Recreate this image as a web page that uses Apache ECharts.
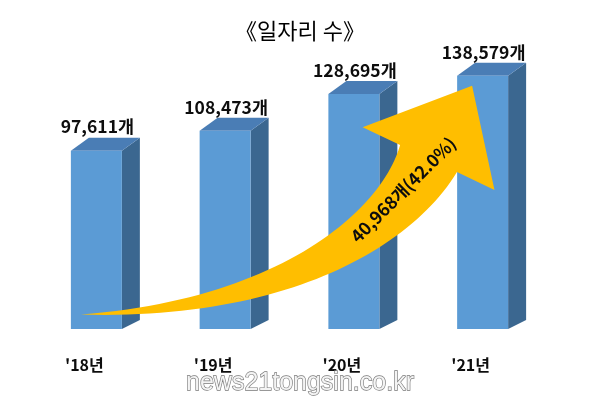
<!DOCTYPE html>
<html>
<head>
<meta charset="utf-8">
<script src="https://cdn.jsdelivr.net/npm/echarts@6/dist/echarts.min.js"></script>
<style>
  html, body { margin: 0; padding: 0; background: #ffffff; }
  #chart { width: 600px; height: 400px; }
</style>
</head>
<body>
<div id="chart"></div>
<script>
// ---- data ----
const titleText = '《일자리 수》';
const categories = ["'18년", "'19년", "'20년", "'21년"];
const values = [97611, 108473, 128695, 138579];
const unit = '개';
const growthText = '40,968개(42.0%)';
const watermarkText = 'news21tongsin.co.kr';

// arrow anchors in data space: [category index, value]
const arrowTail = [-0.12, 7900];
const arrowHeadBase = [2.58, 93300];

const FONT = '"Noto Sans CJK KR", "Noto Sans", sans-serif';

const chart = echarts.init(document.getElementById('chart'), null, { renderer: 'canvas' });

function fmt(v) { return v.toLocaleString('en-US'); }

function renderBar(params, api) {
  const i = api.value(0), v = api.value(1);
  const top = api.coord([i, v]);
  const base = api.coord([i, 0]);
  const band = api.size([1, 0])[0];
  const w = band * 0.396;
  const L = top[0] - w / 2, R = top[0] + w / 2, T = top[1], B = base[1];
  const dx = 18, dyT = 13, dyB = 9;
  return {
    type: 'group',
    children: [
      { type: 'polygon', shape: { points: [[R, T], [R + dx, T - dyT], [R + dx, B - dyB], [R, B]] },
        style: { fill: '#3b6790' } },
      { type: 'polygon', shape: { points: [[L, T], [L + dx, T - dyT], [R + dx, T - dyT], [R, T]] },
        style: { fill: '#4a7db5' } },
      { type: 'rect', shape: { x: L, y: T, width: w, height: B - T },
        style: { fill: '#5b9bd5' } },
      { type: 'text', x: top[0] + 1, y: T - 24,
        style: { text: fmt(v) + unit, align: 'center', verticalAlign: 'middle',
                 font: 'bold 17.5px ' + FONT, fill: '#0d0d0d' } }
    ]
  };
}

function renderArrow(params, api) {
  const c0 = api.coord([0, 0]);
  const band = api.size([1, 0])[0];
  const pt = (d) => [c0[0] + d[0] * band, api.coord([0, d[1]])[1]];
  const P0 = pt(arrowTail);
  const P3 = pt(arrowHeadBase);
  const fwd = [0.43, -0.903];
  const perp = [0.903, 0.43];
  const P1 = [P0[0] + 200, P0[1] - 5];
  const P2 = [P3[0] - 80 * fwd[0], P3[1] - 80 * fwd[1]];
  const bez = (t) => {
    const u = 1 - t;
    const a = u * u * u, b = 3 * u * u * t, c = 3 * u * t * t, d = t * t * t;
    return [a * P0[0] + b * P1[0] + c * P2[0] + d * P3[0],
            a * P0[1] + b * P1[1] + c * P2[1] + d * P3[1]];
  };
  const der = (t) => {
    const u = 1 - t;
    return [3 * u * u * (P1[0] - P0[0]) + 6 * u * t * (P2[0] - P1[0]) + 3 * t * t * (P3[0] - P2[0]),
            3 * u * u * (P1[1] - P0[1]) + 6 * u * t * (P2[1] - P1[1]) + 3 * t * t * (P3[1] - P2[1])];
  };
  const W = 63, headW = 146, headL = 84.5, skew = 8;
  const N = 50;
  const upper = [], lower = [];
  for (let k = 0; k <= N; k++) {
    const t = k / N;
    const p = bez(t), d = der(t);
    const len = Math.hypot(d[0], d[1]);
    const n = [d[1] / len, -d[0] / len];
    const hw = W * t / 2;
    upper.push([p[0] + n[0] * hw, p[1] + n[1] * hw]);
    lower.push([p[0] - n[0] * hw, p[1] - n[1] * hw]);
  }
  const leftBarb = [P3[0] - perp[0] * headW / 2, P3[1] - perp[1] * headW / 2];
  const rightBarb = [P3[0] + perp[0] * headW / 2, P3[1] + perp[1] * headW / 2];
  const tip = [P3[0] + fwd[0] * headL + perp[0] * skew, P3[1] + fwd[1] * headL + perp[1] * skew];
  const pts = upper.concat([leftBarb, tip, rightBarb]).concat(lower.reverse());
  const tp = bez(0.82);
  return {
    type: 'group',
    children: [
      { type: 'polygon', shape: { points: pts }, style: { fill: '#ffbe00' } },
      { type: 'text', x: tp[0] + 1, y: tp[1] - 8, rotation: Math.PI / 4,
        style: { text: growthText, align: 'center', verticalAlign: 'middle',
                 font: 'bold 17.5px ' + FONT, fill: '#0d0d0d' } }
    ]
  };
}

chart.setOption({
  animation: false,
  backgroundColor: '#ffffff',
  title: {
    text: titleText, left: 'center', top: 15,
    textStyle: { fontFamily: FONT, fontSize: 22, fontWeight: 'normal', color: '#000' }
  },
  grid: { left: 32, right: 53, top: 55, bottom: 71 },
  xAxis: {
    type: 'category', data: categories,
    axisLine: { show: false }, axisTick: { show: false }, splitLine: { show: false },
    axisLabel: { margin: 28, padding: [0, 24, 0, 0], fontFamily: FONT, fontSize: 16,
                 fontWeight: 'bold', color: '#0d0d0d' }
  },
  yAxis: { type: 'value', min: 0, max: 150000, show: false, splitLine: { show: false } },
  series: [
    { type: 'custom', renderItem: renderBar, z: 2,
      data: values.map((v, i) => [i, v]) },
    { type: 'custom', renderItem: renderArrow, z: 3, data: [[0, 0]] }
  ],
  graphic: [{
    type: 'text', x: 300, y: 383, z: 10,
    style: { text: watermarkText, align: 'center', verticalAlign: 'middle',
             font: '25px "Liberation Sans", Arial, sans-serif',
             fill: '#f4f4f4', stroke: '#7a7a7a', lineWidth: 1.3,
             shadowColor: 'rgba(0,0,0,0.4)', shadowBlur: 2, shadowOffsetX: 1, shadowOffsetY: 1 }
  }]
});
</script>
</body>
</html>
